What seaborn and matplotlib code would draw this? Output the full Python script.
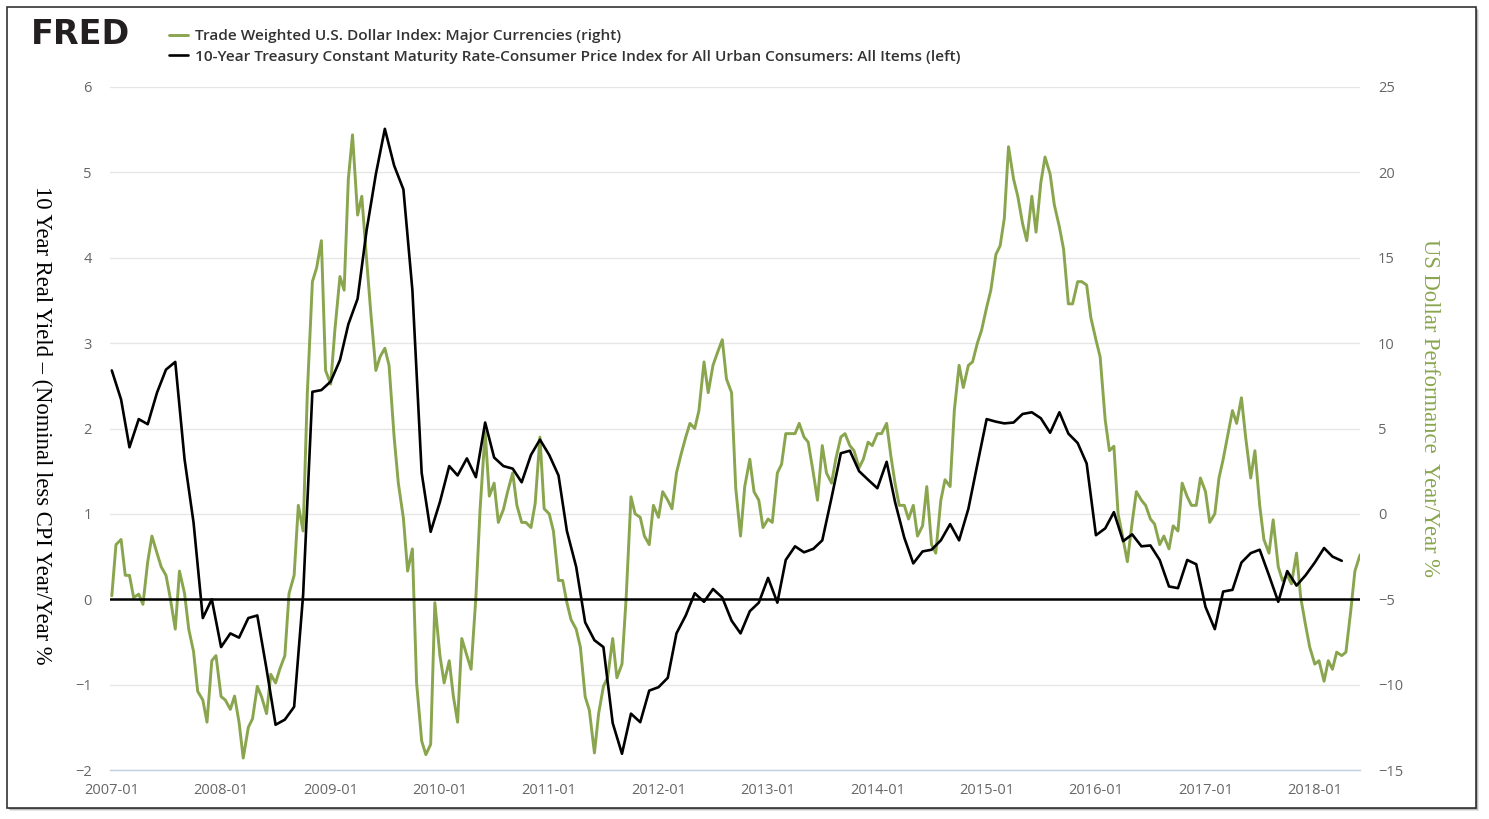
import numpy as np
import pandas as pd
import matplotlib
matplotlib.use("Agg")
import matplotlib.pyplot as plt
import matplotlib.dates as mdates
import matplotlib.patches as mpatches
import seaborn as sns

# 10年期实际收益率（月度，左轴）
real_2007 = [2.68, 2.34, 1.78, 2.11, 2.05, 2.42, 2.69, 2.78, 1.64, 0.90, -0.22, 0.0]
real_2008 = [-0.56, -0.40, -0.45, -0.22, -0.19, -0.82, -1.47, -1.41, -1.26, 0.05, 2.43, 2.45]
real_2009 = [2.55, 2.80, 3.22, 3.52, 4.32, 4.98, 5.51, 5.08, 4.80, 3.62, 1.48, 0.79]
real_2010 = [1.14, 1.56, 1.45, 1.65, 1.43, 2.07, 1.66, 1.56, 1.53, 1.37, 1.69, 1.87]
real_2011 = [1.69, 1.45, 0.80, 0.38, -0.27, -0.48, -0.56, -1.45, -1.81, -1.34, -1.44, -1.07]
real_2012 = [-1.03, -0.92, -0.40, -0.19, 0.07, -0.03, 0.12, 0.02, -0.25, -0.40, -0.14, -0.04]
real_2013 = [0.25, -0.04, 0.46, 0.62, 0.55, 0.59, 0.69, 1.19, 1.71, 1.74, 1.50, 1.40]
real_2014 = [1.30, 1.61, 1.14, 0.72, 0.42, 0.56, 0.58, 0.69, 0.88, 0.69, 1.06, 1.58]
real_2015 = [2.11, 2.08, 2.06, 2.07, 2.17, 2.19, 2.12, 1.95, 2.19, 1.94, 1.83, 1.59]
real_2016 = [0.75, 0.83, 1.02, 0.68, 0.76, 0.62, 0.63, 0.46, 0.15, 0.13, 0.46, 0.41]
real_2017 = [-0.09, -0.35, 0.09, 0.11, 0.43, 0.54, 0.58, 0.28, -0.03, 0.33, 0.16, 0.28]
real_2018 = [0.43, 0.60, 0.50, 0.45]

# 美元指数同比（每半月，右轴）
usd_2007 = [-4.8, -1.8, -1.5, -3.6, -3.6, -4.9, -4.7, -5.3, -2.8, -1.3, -2.3, -3.1,
            -3.6, -4.9, -6.75, -3.35, -4.66, -6.75, -8.06, -10.4, -10.9, -12.2, -8.6, -8.3]
usd_2008 = [-10.7, -10.9, -11.45, -10.67, -12.2, -14.3, -12.5, -12.0, -10.1, -10.7, -11.7, -9.4,
            -9.9, -9.1, -8.3, -4.66, -3.6, 0.5, -1.0, 7.05, 13.6, 14.4, 16.0, 8.4]
usd_2009 = [7.6, 10.75, 13.9, 13.1, 19.6, 22.2, 17.5, 18.6, 14.9, 11.8, 8.4, 9.2,
            9.7, 8.7, 4.5, 1.8, -0.26, -3.35, -2.05, -9.9, -13.3, -14.1, -13.5, -5.2]
usd_2010 = [-8.3, -9.9, -8.6, -10.7, -12.2, -7.3, -8.3, -9.1, -4.9, 0.26, 4.8, 1.04,
            1.8, -0.5, 0.26, 1.3, 2.4, 0.5, -0.5, -0.5, -0.8, 0.6, 4.5, 0.3]
usd_2011 = [0.0, -1.0, -3.9, -3.9, -5.2, -6.2, -6.75, -7.8, -10.7, -11.5, -14.0, -11.7,
            -10.1, -9.6, -7.3, -9.6, -8.8, -4.9, 1.0, 0.0, -0.2, -1.3, -1.8, 0.5]
usd_2012 = [-0.2, 1.3, 0.8, 0.3, 2.4, 3.4, 4.5, 5.3, 5.0, 6.05, 8.9, 7.1,
            8.7, 9.4, 10.2, 7.9, 7.1, 1.5, -1.3, 1.6, 3.2, 1.3, 0.8, -0.8]
usd_2013 = [-0.3, -0.5, 2.4, 2.9, 4.7, 4.7, 4.7, 5.3, 4.5, 4.2, 2.4, 0.8,
            4.0, 2.4, 1.8, 3.2, 4.5, 4.7, 4.0, 3.7, 2.7, 3.2, 4.2, 4.0]
usd_2014 = [4.7, 4.7, 5.3, 3.4, 1.8, 0.5, 0.5, -0.3, 0.5, -1.3, -0.7, 1.6,
            -1.8, -2.3, 0.8, 2.0, 1.6, 6.05, 8.7, 7.4, 8.7, 8.9, 10.0, 10.75]
usd_2015 = [12.1, 13.1, 15.2, 15.7, 17.3, 21.5, 19.6, 18.6, 17.0, 16.0, 18.6, 16.5,
            19.4, 20.9, 19.9, 18.1, 16.8, 15.5, 12.3, 12.3, 13.6, 13.6, 13.4, 11.5]
usd_2016 = [10.2, 9.2, 5.5, 3.7, 3.96, 0.0, -1.5, -2.8, -0.5, 1.3, 0.8, 0.5,
            -0.3, -0.6, -1.8, -1.3, -2.05, -0.7, -1.0, 1.8, 1.0, 0.5, 0.5, 2.1]
usd_2017 = [1.3, -0.5, 0.0, 2.1, 3.2, 4.5, 6.05, 5.3, 6.8, 4.5, 2.1, 3.7,
            0.5, -1.5, -2.3, -0.35, -3.1, -3.9, -3.6, -4.1, -2.3, -4.9, -6.5, -7.8]
usd_2018 = [-8.8, -8.6, -9.8, -8.6, -9.1, -8.1, -8.3, -8.1, -5.7, -3.35, -2.4]

year_ticks = [str(y) + "-01-01" for y in range(2007, 2019)]

label_usd = "Trade Weighted U.S. Dollar Index: Major Currencies (right)"
label_real = "10-Year Treasury Constant Maturity Rate-Consumer Price Index for All Urban Consumers: All Items (left)"

GREEN = "#89A54E"
GRAY_TXT = "#666666"
AXIS_BLUE = "#C0D0E0"

sns.set_theme(style="white")
plt.rcParams["font.family"] = ["Open Sans", "DejaVu Sans"]

real = sum([real_2007, real_2008, real_2009, real_2010, real_2011, real_2012,
            real_2013, real_2014, real_2015, real_2016, real_2017, real_2018], [])
usd = sum([usd_2007, usd_2008, usd_2009, usd_2010, usd_2011, usd_2012,
           usd_2013, usd_2014, usd_2015, usd_2016, usd_2017, usd_2018], [])

df_real = pd.DataFrame({"date": pd.date_range("2007-01-01", periods=len(real), freq="MS"),
                        "value": real})
df_usd = pd.DataFrame({"date": pd.date_range("2007-01-01", periods=len(usd), freq="SMS"),
                       "value": usd})

fig = plt.figure(figsize=(14.89, 8.19), dpi=100)

# 外框和阴影 (放在坐标轴下面)
for i, a in enumerate([0.10, 0.18, 0.35]):
    off = (3 - i) / 1489
    fig.patches.append(mpatches.Rectangle((7 / 1489 + off, 1 - 808 / 819 - off * 1489 / 819),
                                          1469 / 1489, 801 / 819, transform=fig.transFigure,
                                          facecolor="black", edgecolor="none", alpha=a, zorder=-5))
fig.patches.append(mpatches.Rectangle((7 / 1489, 1 - 808 / 819), 1469 / 1489, 801 / 819,
                                      transform=fig.transFigure, facecolor="white",
                                      edgecolor="#333333", linewidth=1.2, zorder=-4))

ax2 = fig.add_axes([110 / 1489, 1 - 770 / 819, 1250 / 1489, 683 / 819])
ax = ax2.twinx()

sns.lineplot(data=df_usd, x="date", y="value", ax=ax2, color=GREEN, linewidth=2.1, label=label_usd)
sns.lineplot(data=df_real, x="date", y="value", ax=ax, color="black", linewidth=1.9, label=label_real)
ax.axhline(0, color="black", linewidth=1.8, zorder=3)

# 左轴 (黑线) 在上层
ax.set_zorder(ax2.get_zorder() + 1)
ax.patch.set_visible(False)
ax2.patch.set_visible(False)

ax.yaxis.set_label_position("left")
ax.yaxis.tick_left()
ax2.yaxis.set_label_position("right")
ax2.yaxis.tick_right()

ax.set_ylim(-2, 6)
ax.set_yticks(range(-2, 7))
ax2.set_ylim(-15, 25)
ax2.set_yticks(range(-15, 26, 5))
ax2.grid(axis="y", color="#e6e6e6", linewidth=1.0)
ax2.grid(axis="x", visible=False)
ax.grid(False)

xmin, xmax = pd.Timestamp("2006-12-26"), pd.Timestamp("2018-06-01")
ax.set_xlim(xmin, xmax)
ax2.set_xlim(xmin, xmax)
ax2.set_xticks(pd.to_datetime(year_ticks))
ax2.xaxis.set_major_formatter(mdates.DateFormatter("%Y-%m"))

for a in (ax, ax2):
    a.set_xlabel("")
    a.set_ylabel("")
    for s in a.spines.values():
        s.set_visible(False)
    if a.get_legend() is not None:
        a.get_legend().remove()

ax2.spines["bottom"].set_visible(True)
ax2.spines["bottom"].set_color(AXIS_BLUE)
ax2.spines["bottom"].set_linewidth(1.0)
ax2.tick_params(axis="x", colors=AXIS_BLUE, length=7, width=1.0, direction="out",
                labelcolor=GRAY_TXT, labelsize=10.5, pad=2)
ax2.tick_params(axis="y", length=0, labelcolor=GRAY_TXT, labelsize=10.5, pad=13)
ax.tick_params(axis="y", length=0, labelcolor=GRAY_TXT, labelsize=10.5, pad=13)
ax.tick_params(axis="x", bottom=False, labelbottom=False)

# 轴标题
fig.text(42 / 1489, 1 - 425 / 819, "10 Year Real Yield \u2013 (Nominal less CPI Year/Year %",
         rotation=-90, ha="center", va="center", fontsize=16.3,
         family=["Liberation Serif", "DejaVu Serif"], color="black")
fig.text(1430 / 1489, 1 - 408 / 819, "US Dollar Performance  Year/Year %",
         rotation=-90, ha="center", va="center", fontsize=16.3,
         family=["Liberation Serif", "DejaVu Serif"], color=GREEN)

# 图例与 FRED 标志
fig.text(31 / 1489, 1 - 35 / 819, "FRED", fontsize=24, fontweight="bold",
         family="DejaVu Sans", color="#231f20", ha="left", va="center")
h1 = ax2.get_lines()[0]
h2 = ax.get_lines()[0]
fig.legend([h1, h2], [label_usd, label_real], loc="upper left",
           bbox_to_anchor=(163 / 1489, 1 - 23 / 819), frameon=False,
           handlelength=1.2, handletextpad=0.45, labelspacing=0.42, borderaxespad=0,
           prop={"size": 11.1, "weight": "semibold"}, labelcolor="#333333")

fig.savefig("out.png", dpi=100, facecolor="white")
